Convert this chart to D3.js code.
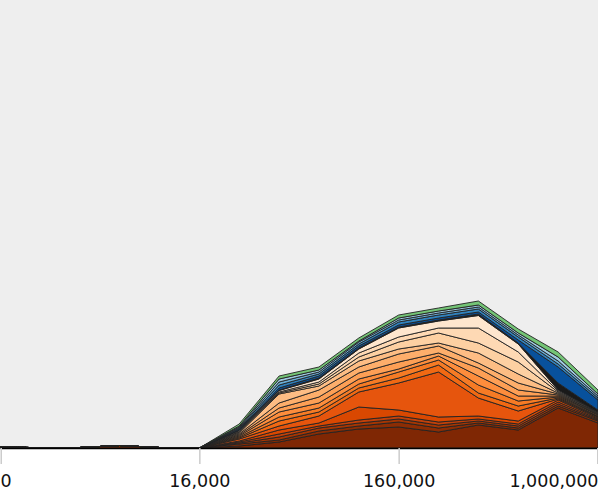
<!DOCTYPE html>
<html>
<head>
<meta charset="utf-8">
<script src="https://cdn.jsdelivr.net/npm/d3@7"></script>
<style>
  body { margin: 0; background: #fff; }
  svg { display: block; font-family: "DejaVu Sans", sans-serif; }
</style>
</head>
<body>
<svg id="chart"></svg>
<script>
// x positions of the samples (axis is piecewise: 0 / 16k / 160k / 1M)
var xValues = [0, 3200, 6400, 9600, 12800, 16000, 44800, 73600, 102400, 131200,
  160000, 328000, 496000, 664000, 832000, 1000000];
var tickValues = [0, 16000, 160000, 1000000];

// layers bottom -> top
var layerKeys = ["g01", "g02", "g03", "g04", "g05", "g06", "g07", "g08", "g09", "g10",
  "g11", "g12", "g13", "g14", "g15", "g16", "g17", "g18", "g19", "g20", "g21"];

var layerColors = ["#7f2704", "#8c2d04", "#a63603", "#c2410a", "#d94801", "#e6550d",
  "#f16913", "#f67b25", "#fd8d3c", "#fd9f55", "#fdae6b", "#fdbd84", "#fdd0a2",
  "#fed9b4", "#fee6ce", "#1a1a1a", "#08519c", "#3182bd", "#6baed6", "#9ecae1", "#74c476"];

var g01 = [1, 0.3, 0.5, 2.5, 0.5, 0, 2, 6, 14, 19, 21, 16, 23, 18, 40, 25];
var g02 = [0, 0, 0, 0, 0, 0, 2, 2, 3, 3, 5, 4, 2, 2, 2, 2];
var g03 = [0, 0, 0, 0, 0, 0, 1, 3, 3, 3, 3, 3, 2, 2, 2, 1];
var g04 = [0, 0, 0, 0, 0, 0, 1, 3, 2, 3, 3, 3, 2, 2, 2, 1];
var g05 = [0, 0, 0, 0, 0, 0, 1, 4, 3, 13, 6, 5, 3, 3, 2, 1];
var g06 = [0, 0, 0, 0, 0, 0, 2, 4, 7, 15, 27, 45, 18, 10, 1, 1];
var g07 = [0, 0, 0, 0, 0, 0, 1, 5, 4, 4, 5, 7, 5, 5, 1, 0.5];
var g08 = [0, 0, 0, 0, 0, 0, 1, 4, 4, 4, 6, 5, 8, 5, 1, 0.5];
var g09 = [0, 0, 0, 0, 0, 0, 1, 5, 5, 5, 3, 4, 9, 5, 1, 1];
var g10 = [0, 0, 0, 0, 0, 0, 1, 4, 6, 6, 7, 3, 8, 6, 1, 0.5];
var g11 = [0, 0, 0, 0, 0, 0, 1, 5, 7, 6, 8, 7, 5, 7, 1, 0.5];
var g12 = [0, 0, 0, 0, 0, 0, 1, 9, 4, 6, 5, 3, 10, 9, 1, 0.5];
var g13 = [0, 0, 0, 0, 0, 0, 1, 1, 2, 4, 7, 10, 10, 12, 1, 0.5];
var g14 = [0, 0, 0, 0, 0, 0, 0.5, 1, 2, 4, 5, 5, 15, 10, 1, 0.5];
var g15 = [0, 0, 0, 0, 0, 0, 1, 1.5, 3, 4, 9, 7, 12.5, 8, 1, 0.5];
var g16 = [0, 0, 0, 0, 0, 0, 0.5, 0.5, 1, 1, 1, 1, 1.5, 1, 7, 2];
var g17 = [0, 0, 0, 0, 0, 0, 1, 2, 2, 2, 2, 2, 2, 3, 16, 10];
var g18 = [0, 0, 0, 0, 0, 0, 1, 3, 2, 2, 3, 3, 3, 3, 3, 2];
var g19 = [0, 0, 0, 0, 0, 0, 1, 3, 2, 2, 2, 2, 2, 2, 3, 2];
var g20 = [0, 0, 0, 0, 0, 0, 1, 3, 2, 1, 2, 2, 2, 2, 4, 2];
var g21 = [0, 0, 0, 0, 0, 0, 2, 3, 3, 3, 3, 3, 4, 4, 5, 4];

var layerValues = [g01, g02, g03, g04, g05, g06, g07, g08, g09, g10, g11,
  g12, g13, g14, g15, g16, g17, g18, g19, g20, g21];

var width = 598;
var height = 491;
var plotBottom = 448;

var svg = d3.select("#chart")
  .attr("width", width)
  .attr("height", height);

// grey plot background
svg.append("rect")
  .attr("width", width)
  .attr("height", plotBottom)
  .attr("fill", "#eeeeee");

// build rows for d3.stack
var rows = xValues.map(function(x, i) {
  var row = { x: x };
  layerKeys.forEach(function(k, j) { row[k] = layerValues[j][i]; });
  return row;
});

var x = d3.scaleLinear()
  .domain(tickValues)
  .range([0, width / 3, width * 2 / 3, width]);

var y = d3.scaleLinear()
  .domain([0, 448])
  .range([plotBottom, 0]);

var stacked = d3.stack().keys(layerKeys)(rows);

var area = d3.area()
  .x(d => x(d.data.x))
  .y0(d => y(d[0]))
  .y1(d => y(d[1]));

svg.append("g")
  .selectAll("path")
  .data(stacked)
  .enter()
  .append("path")
  .attr("d", area)
  .attr("fill", (d, i) => layerColors[i])
  .attr("stroke", "#222")
  .attr("stroke-width", 0.9)
  .attr("stroke-linejoin", "round");

// x axis
var axis = svg.append("g")
  .attr("transform", "translate(0," + plotBottom + ")")
  .call(d3.axisBottom(x).tickValues(tickValues).tickFormat(d3.format(",")).tickSize(16).tickSizeOuter(0));

axis.select(".domain")
  .attr("stroke", "#000")
  .attr("stroke-width", 1.5);

axis.selectAll(".tick line")
  .attr("stroke", "#cccccc")
  .attr("stroke-width", 1.5)
  .attr("transform", (d, i) => i === 0 ? "translate(0.75,0)" : (i === tickValues.length - 1 ? "translate(-0.75,0)" : null));

axis.selectAll(".tick text")
  .attr("fill", "#111")
  .attr("font-size", "17.5px")
  .attr("font-family", "DejaVu Sans, sans-serif")
  .attr("y", 27)
  .attr("dy", "0.71em")
  .attr("text-anchor", (d, i) => i === 0 ? "start" : (i === tickValues.length - 1 ? "end" : "middle"));
</script>
</body>
</html>
